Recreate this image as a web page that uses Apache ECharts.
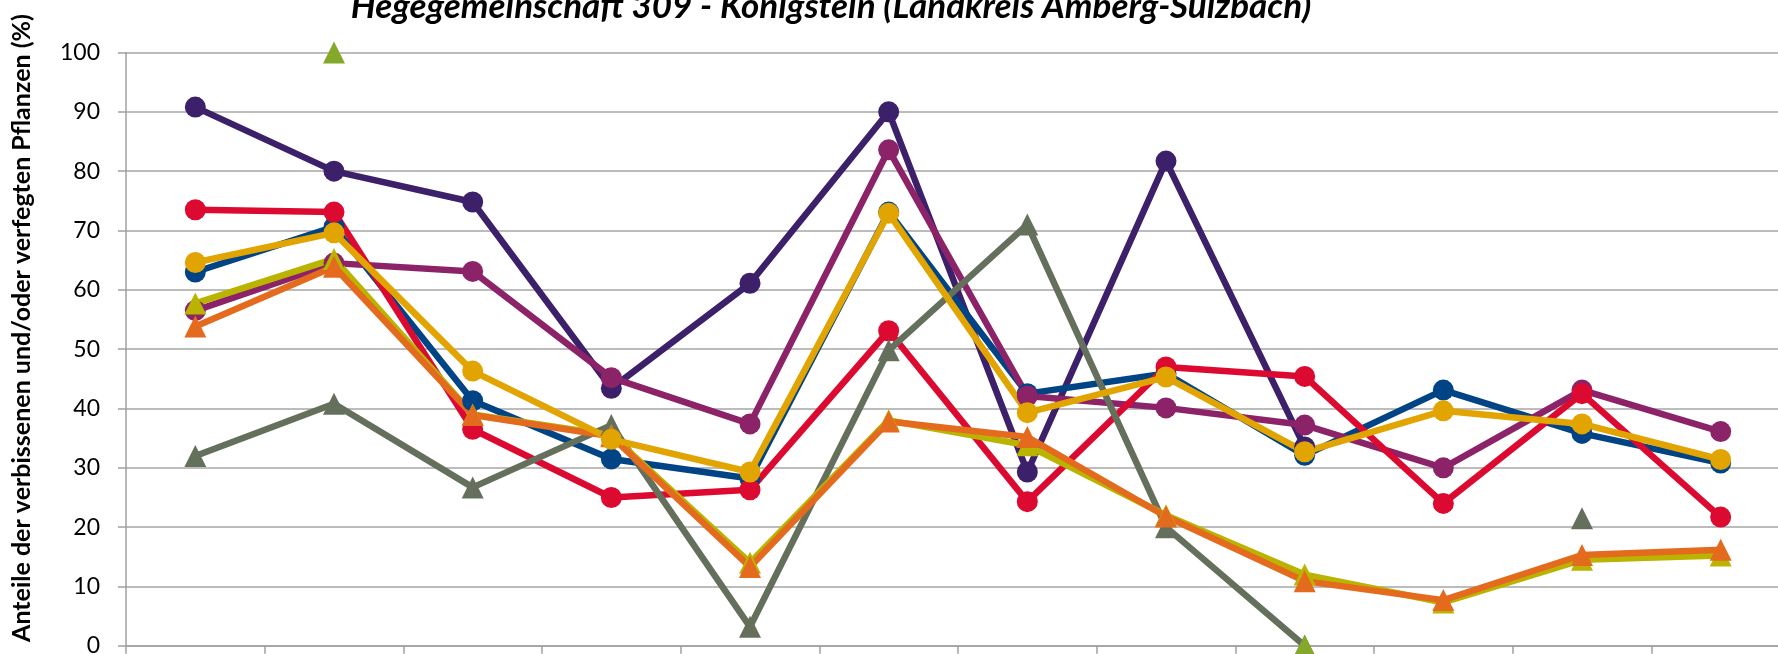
<!DOCTYPE html>
<html>
<head>
<meta charset="utf-8">
<script src="https://cdn.jsdelivr.net/npm/echarts@6/dist/echarts.min.js"></script>
<style>
html,body{margin:0;padding:0;background:#fff;}
#chart{width:1778px;height:654px;}
</style>
</head>
<body>
<div id="chart"></div>
<script>
var categories = ['1991','1994','1997','2000','2003','2006','2009','2012','2015','2018','2021','2024'];
var yTicks = [0,10,20,30,40,50,60,70,80,90,100];

var purple  = [90.8, 80.0, 74.8, 43.4, 61.1, 90.0, 29.3, 81.7, 33.5, null, null, null];
var blue    = [63.0, 70.6, 41.3, 31.5, 28.2, 73.1, 42.5, 45.9, 32.1, 43.1, 35.8, 30.8];
var magenta = [56.5, 64.5, 63.1, 45.2, 37.4, 83.6, 42.1, 40.1, 37.2, 30.0, 43.1, 36.1];
var red     = [73.5, 73.1, 36.5, 25.0, 26.3, 53.1, 24.3, 47.0, 45.4, 24.0, 42.5, 21.7];
var gray    = [32.0, 40.8, 26.7, 37.2, 3.2, 49.8, 71.0, 20.0, 0, null, 21.5, null];
var olive   = [57.7, 65.2, 39.0, 35.5, 14.0, 38.0, 33.8, 22.0, 12.0, 7.3, 14.5, 15.2];
var orange  = [53.8, 63.9, 38.9, 35.3, 13.3, 37.8, 35.2, 21.8, 10.9, 7.7, 15.3, 16.2];
var gold    = [64.6, 69.6, 46.3, 34.8, 29.3, 72.9, 39.3, 45.3, 32.7, 39.6, 37.4, 31.4];
var lime    = [null, 100, null, null, null, null, null, null, 0, null, null, null];

var titleText = 'Hegegemeinschaft 309 - Königstein (Landkreis Amberg-Sulzbach)';
var yName = 'Anteile der verbissenen und/oder verfegten Pflanzen (%)';

function mk(name, data, color, symbol, size) {
  return {
    name: name, type: 'line', data: data,
    symbol: symbol, symbolSize: size, showSymbol: true, showAllSymbol: true,
    connectNulls: false, animation: false,
    lineStyle: { color: color, width: 6.5 },
    itemStyle: { color: color },
    emphasis: { disabled: true }
  };
}

var chart = echarts.init(document.getElementById('chart'));
chart.setOption({
  animation: false,
  backgroundColor: '#ffffff',
  grid: { left: 126, top: 52.5, width: 1664, height: 593.3, containLabel: false, outerBoundsMode: 'none' },
  xAxis: {
    type: 'category', data: categories, boundaryGap: true,
    axisLine: { show: true, lineStyle: { color: '#a0a0a0', width: 1.5 } },
    axisTick: { show: true, interval: 0, length: 8, lineStyle: { color: '#a0a0a0', width: 1.5 } },
    axisLabel: { show: true, fontFamily: 'Lato', fontSize: 23, color: '#000' },
    splitLine: { show: false }
  },
  yAxis: {
    type: 'value', min: 0, max: 100, interval: 10,
    axisLine: { show: true, lineStyle: { color: '#a0a0a0', width: 1.5 } },
    axisTick: { show: true, length: 8, lineStyle: { color: '#a0a0a0', width: 1.5 } },
    axisLabel: { fontFamily: 'Lato', fontSize: 23, color: '#000', margin: 26,
      formatter: function (v) { return yTicks.indexOf(v) >= 0 ? String(v) : ''; } },
    splitLine: { show: true, lineStyle: { color: '#a6a6a6', width: 1.5 } }
  },
  graphic: [
    { type: 'text', x: 831, y: 24, silent: true,
      style: { text: titleText, font: 'italic bold 35px Lato', fill: '#000', align: 'center', verticalAlign: 'bottom' } },
    { type: 'text', x: 22, y: 328, rotation: Math.PI / 2, silent: true,
      style: { text: yName, font: 'bold 25px Lato', fill: '#000', align: 'center', verticalAlign: 'middle' } }
  ],
  series: [
    mk('Serie A', purple, '#3c206a', 'circle', 21),
    mk('Serie B', blue, '#004485', 'circle', 21),
    mk('Serie C', magenta, '#8c2369', 'circle', 21),
    mk('Serie D', red, '#dc0a30', 'circle', 21),
    mk('Serie E', gray, '#64705c', 'triangle', 22),
    mk('Serie F', olive, '#bab400', 'triangle', 22),
    mk('Serie G', orange, '#e46b1e', 'triangle', 22),
    mk('Serie H', gold, '#e2a400', 'circle', 21),
    mk('Serie I', lime, '#84a82a', 'triangle', 22)
  ]
});
</script>
</body>
</html>
